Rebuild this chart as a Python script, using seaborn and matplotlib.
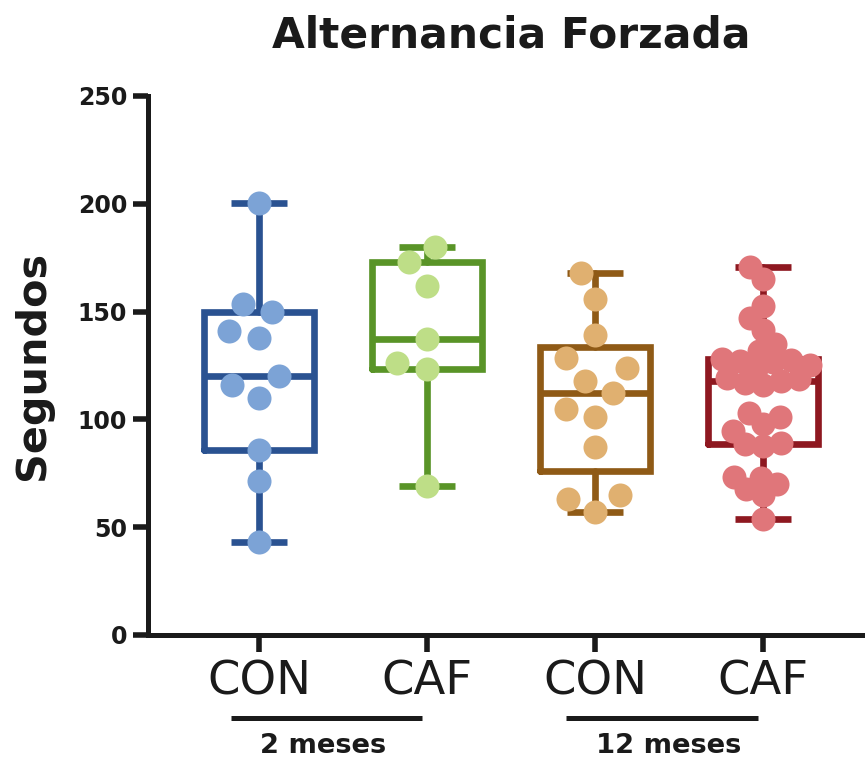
import numpy as np
import pandas as pd
import matplotlib
matplotlib.use("Agg")
import matplotlib.pyplot as plt
import seaborn as sns
from matplotlib.transforms import blended_transform_factory

# Forced alternation test: time (s) per group
tick_labels = ["CON", "CAF", "CON", "CAF"]
group_keys = ["CON 2m", "CAF 2m", "CON 12m", "CAF 12m"]
age_labels = ["2 meses", "12 meses"]

con_2m = [43, 71.5, 86, 110, 116, 120.3, 137.8, 141, 150, 153.5, 200.5]
caf_2m = [69, 123.5, 126, 137.2, 162, 173, 180]
con_12m = [57, 63, 65, 87, 101, 105, 112, 118, 124, 128.3, 139, 156, 168]
caf_12m = [54, 65, 67.5, 70, 73, 73.5, 87.5, 88.5, 89, 94.5, 98, 101, 103,
           116, 117, 118, 118.5, 119, 123.5, 125, 126.5, 127, 127.5, 128,
           131.5, 135, 141.5, 147, 152.5, 165, 170.5]

box_colors = ["#2A5291", "#599427", "#8F5A16", "#8E1820"]
point_colors = ["#7CA3D6", "#BEDE87", "#E0B070", "#E0767A"]
layout_sizes = [21, 21, 21, 12.5]
marker_size = 17.3

values = [con_2m, caf_2m, con_12m, caf_12m]
df = pd.DataFrame({
    "grupo": np.repeat(group_keys, [len(v) for v in values]),
    "segundos": np.concatenate(values),
})

sns.set_theme(style="ticks")
plt.rcParams["font.family"] = ["DejaVu Sans"]
ink = "#1a1a1a"

fig = plt.figure(figsize=(8.65, 7.61), dpi=100)
ax = fig.add_axes([0.1711, 0.1656, 0.8289, 0.7083])

# Boxes: quartiles by the (n+1)p rule, whiskers from min to max
lw = 4.8
for i, v in enumerate(values):
    q1, med, q3 = np.percentile(v, [25, 50, 75], method="weibull")
    st = dict(med=med, q1=q1, q3=q3, whislo=min(v), whishi=max(v), fliers=[])
    c = box_colors[i]
    ax.bxp([st], positions=[i], widths=0.66, capwidths=0.33, showfliers=False,
           boxprops=dict(color=c, linewidth=lw, solid_joinstyle="miter"),
           medianprops=dict(color=c, linewidth=lw, solid_capstyle="butt"),
           whiskerprops=dict(color=c, linewidth=lw),
           capprops=dict(color=c, linewidth=lw, solid_capstyle="butt"),
           manage_ticks=False, zorder=2)

for i, key in enumerate(group_keys):
    sns.swarmplot(data=df[df["grupo"] == key], x="grupo", y="segundos",
                  order=group_keys, color=point_colors[i], size=layout_sizes[i],
                  linewidth=0, ax=ax, zorder=3)

ax.set_xlim(-0.661, 3.607)
ax.set_ylim(0, 250)
ax.set_yticks([0, 50, 100, 150, 200, 250])
ax.set_xticks(range(4))
ax.set_xticklabels(tick_labels)
ax.set_xlabel("")

# Lay out the swarms, then keep those positions while enlarging the dots
fig.canvas.draw()
for coll in ax.collections:
    coll.__dict__.pop("draw", None)
    coll.set_sizes([marker_size ** 2])

for side in ["top", "right"]:
    ax.spines[side].set_visible(False)
for side in ["left", "bottom"]:
    ax.spines[side].set_linewidth(3.6)
    ax.spines[side].set_color(ink)
    ax.spines[side].set_capstyle("projecting")

ax.tick_params(axis="x", length=12, width=4, pad=6, labelsize=33.5,
               color=ink, labelcolor=ink)
ax.tick_params(axis="y", length=11, width=4, pad=4, labelsize=17,
               color=ink, labelcolor=ink)
for lab in ax.get_yticklabels():
    lab.set_fontweight("bold")

ax.set_ylabel("Segundos", fontsize=29.8, fontweight="bold", color=ink)
ax.yaxis.set_label_coords(-0.1325, 0.5)

fig.text(511 / 865, 1 - 47 / 761, "Alternancia Forzada", ha="center",
         va="baseline", fontsize=30.5, fontweight="bold", color=ink)

# Age brackets under the category labels
tr = blended_transform_factory(ax.transData, ax.transAxes)
brackets = [(-0.168, 0.968), (1.827, 2.968)]
label_x = [0.381, 2.44]
for (x0, x1), lx, txt in zip(brackets, label_x, age_labels):
    ax.plot([x0, x1], [-0.1534, -0.1534], transform=tr, color=ink,
            linewidth=3.6, clip_on=False, solid_capstyle="butt")
    ax.text(lx, -0.219, txt, transform=tr, ha="center", va="baseline",
            fontsize=19.7, fontweight="bold", color=ink)

fig.savefig("out.png", dpi=100)
